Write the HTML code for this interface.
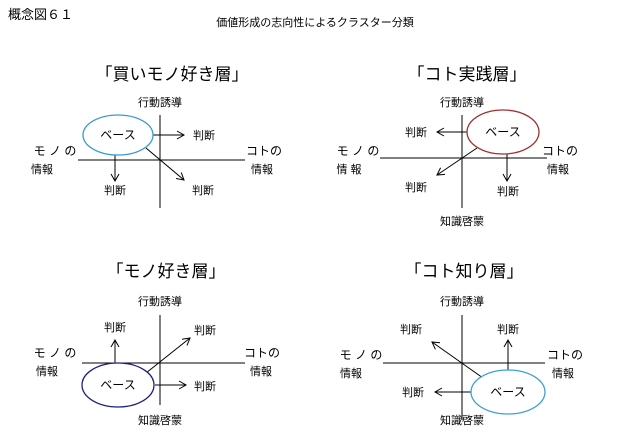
<!DOCTYPE html>
<html><head><meta charset="utf-8"><style>
html,body{margin:0;padding:0;background:#fff;}
svg{display:block;font-family:"Liberation Sans","Noto Sans CJK JP",sans-serif;}
</style></head><body>
<svg width="619" height="442" viewBox="0 0 619 442" xmlns="http://www.w3.org/2000/svg">
<defs>
<marker id="a" markerWidth="10" markerHeight="10" refX="8" refY="5" orient="auto" markerUnits="userSpaceOnUse">
<path d="M1,1 L8,5 L1,9" fill="none" stroke="#000" stroke-width="1"/>
</marker>
</defs>
<g fill="#000">
<text x="8" y="19" font-size="13">概念図６１</text>
<text x="315" y="26" font-size="11" text-anchor="middle">価値形成の志向性によるクラスター分類</text>
</g>
<g stroke="#000" stroke-width="1" fill="none">
<line x1="160" y1="115" x2="160" y2="208"/>
<line x1="78" y1="160" x2="245" y2="160"/>
<line x1="152" y1="135" x2="184" y2="135" marker-end="url(#a)"/>
<line x1="115" y1="155" x2="115" y2="181" marker-end="url(#a)"/>
<line x1="146" y1="148" x2="184" y2="180" marker-end="url(#a)"/>
<line x1="462" y1="115" x2="462" y2="208"/>
<line x1="380" y1="158" x2="547" y2="158"/>
<line x1="468" y1="132" x2="437" y2="132" marker-end="url(#a)"/>
<line x1="477" y1="148" x2="437" y2="175" marker-end="url(#a)"/>
<line x1="507" y1="153" x2="507" y2="181" marker-end="url(#a)"/>
<line x1="160" y1="315" x2="160" y2="405"/>
<line x1="82" y1="363" x2="245" y2="363"/>
<line x1="115" y1="363" x2="115" y2="340" marker-end="url(#a)"/>
<line x1="146" y1="373" x2="190" y2="338" marker-end="url(#a)"/>
<line x1="155" y1="385" x2="186" y2="385" marker-end="url(#a)"/>
<line x1="462" y1="315" x2="462" y2="420"/>
<line x1="383" y1="363" x2="545" y2="363"/>
<line x1="483" y1="378" x2="432" y2="342" marker-end="url(#a)"/>
<line x1="508" y1="370" x2="508" y2="340" marker-end="url(#a)"/>
<line x1="471" y1="392" x2="435" y2="392" marker-end="url(#a)"/>
</g>
<g fill="#fff" stroke-width="1.3">
<ellipse cx="118" cy="135" rx="35" ry="20" stroke="#3a9ad0"/>
<ellipse cx="503" cy="132" rx="36" ry="22" stroke="#a03030"/>
<ellipse cx="118" cy="385" rx="36" ry="22" stroke="#202080"/>
<ellipse cx="508" cy="392" rx="37" ry="22" stroke="#40a0d8"/>
</g>
<g fill="#000" font-size="11" text-anchor="middle">
<text x="172" y="80" font-size="17">「買いモノ好き層」</text>
<text x="160" y="106">行動誘導</text>
<text x="118" y="139" font-size="12">ベース</text>
<text x="204" y="139">判断</text>
<text x="115" y="194">判断</text>
<text x="203" y="194">判断</text>
<text x="55" y="155" font-size="12">モ ノ の</text>
<text x="42" y="173">情報</text>
<text x="264" y="155" font-size="12">コトの</text>
<text x="262" y="173">情報</text>

<text x="467" y="80" font-size="17">「コト実践層」</text>
<text x="462" y="106">行動誘導</text>
<text x="503" y="136" font-size="12">ベース</text>
<text x="416" y="136">判断</text>
<text x="416" y="191">判断</text>
<text x="508" y="195">判断</text>
<text x="358" y="155" font-size="12">モ ノ の</text>
<text x="349" y="173">情 報</text>
<text x="560" y="155" font-size="12">コトの</text>
<text x="558" y="173">情報</text>
<text x="462" y="225">知識啓蒙</text>

<text x="166" y="277" font-size="17">「モノ好き層」</text>
<text x="160" y="305">行動誘導</text>
<text x="118" y="389" font-size="12">ベース</text>
<text x="115" y="331">判断</text>
<text x="205" y="334">判断</text>
<text x="205" y="390">判断</text>
<text x="55" y="357" font-size="12">モ ノ の</text>
<text x="47" y="375">情報</text>
<text x="262" y="357" font-size="12">コトの</text>
<text x="261" y="375">情報</text>
<text x="160" y="424">知識啓蒙</text>

<text x="464" y="277" font-size="17">「コト知り層」</text>
<text x="462" y="305">行動誘導</text>
<text x="508" y="396" font-size="12">ベース</text>
<text x="411" y="333">判断</text>
<text x="508" y="333">判断</text>
<text x="413" y="396">判断</text>
<text x="361" y="359" font-size="12">モ ノ の</text>
<text x="351" y="377">情報</text>
<text x="565" y="359" font-size="12">コトの</text>
<text x="563" y="377">情報</text>
<text x="462" y="424">知識啓蒙</text>
</g>
</svg>
</body></html>
